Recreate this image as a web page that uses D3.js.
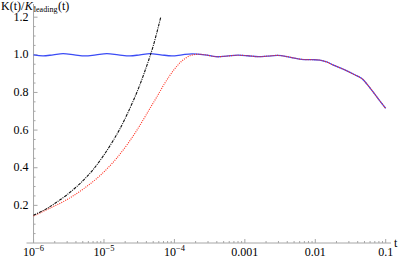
<!DOCTYPE html>
<html>
<head>
<meta charset="utf-8">
<script src="https://cdn.jsdelivr.net/npm/d3@7"></script>
<style>
  body { margin: 0; background: #fff; }
  text { font-family: "Liberation Serif", "DejaVu Serif", serif; }
</style>
</head>
<body>
<div id="chart"></div>
<script>
// values
const blueT = [1e-6, 1.36e-6, 1.9e-6, 2.62e-6, 3.8e-6, 5.37e-6, 7.7e-6, 1.1e-5, 1.6e-5, 2.34e-5, 3.25e-5, 4.49e-5, 6.4e-5, 9.23e-5, 1.28e-4, 1.77e-4,
  2.71e-4, 3.9e-4, 5.5e-4, 7.95e-4, 1.1e-3, 1.55e-3, 2.1e-3, 2.94e-3, 4.3e-3, 6.3e-3, 9e-3, 1.16e-2, 1.45e-2, 1.77e-2, 2.62e-2, 3.63e-2, 4.57e-2, 5.93e-2, 7.7e-2, 0.1]
const blueK = [1.0, 0.994, 1.0, 1.006, 1.0, 0.994, 1.0, 1.006, 1.0, 0.994, 1.0, 1.006, 1.0, 0.994, 1.0, 1.005,
  1.0, 0.99, 0.993, 0.998, 0.995, 0.99, 0.993, 0.997, 0.988, 0.976, 0.974, 0.972, 0.962, 0.947, 0.92, 0.894, 0.874, 0.826, 0.77, 0.715]

const redT = [1e-6, 1.71e-6, 2.96e-6, 5.08e-6, 8.77e-6, 1.51e-5, 2.61e-5, 3.61e-5, 4.49e-5, 5.6e-5, 7.33e-5, 9.61e-5, 1.26e-4, 1.66e-4, 2.16e-4,
  2.71e-4, 3.9e-4, 5.5e-4, 7.95e-4, 1.1e-3, 1.55e-3, 2.1e-3, 2.94e-3, 4.3e-3, 6.3e-3, 9e-3, 1.16e-2, 1.45e-2, 1.77e-2, 2.62e-2, 3.63e-2, 4.57e-2, 5.93e-2, 7.7e-2, 0.1]
const redK = [0.144, 0.185, 0.23, 0.287, 0.358, 0.45, 0.57, 0.655, 0.715, 0.775, 0.85, 0.915, 0.965, 0.995, 1.003,
  1.0, 0.99, 0.993, 0.998, 0.995, 0.99, 0.993, 0.997, 0.988, 0.976, 0.974, 0.972, 0.962, 0.947, 0.92, 0.894, 0.874, 0.826, 0.77, 0.715]

const blackT = [1e-6, 1.5e-6, 2e-6, 3e-6, 5e-6, 7e-6, 1e-5, 1.5e-5, 2e-5, 3e-5, 4e-5, 5e-5, 6.4e-5]
const blackK = [0.148, 0.18, 0.21, 0.257, 0.33, 0.39, 0.468, 0.573, 0.662, 0.81, 0.936, 1.047, 1.2]

const yTicks = [0.2, 0.4, 0.6, 0.8, 1.0, 1.2]
const xTicks = [1e-6, 1e-5, 1e-4, 1e-3, 1e-2, 1e-1]
const xTickLabels = [["10", "\u22126"], ["10", "\u22125"], ["10", "\u22124"], ["0.001"], ["0.01"], ["0.1"]]

const width = 400
const height = 259

const svg = d3.select("#chart").append("svg")
  .attr("width", width)
  .attr("height", height)

const x = d3.scaleLog().domain([Math.pow(10, -6.1), Math.pow(10, -0.925)]).range([26.5, 391])
const y = d3.scaleLinear().domain([0, 1.27]).range([243, 4])

const axisColor = "#a6a6a6"
const x0 = x(1e-6)

// y axis
svg.append("line")
  .attr("x1", x0).attr("x2", x0)
  .attr("y1", y(0)).attr("y2", y(1.27))
  .attr("stroke", axisColor).attr("stroke-width", 1)

const yMinor = d3.range(0.05, 1.26, 0.05).filter(v => !yTicks.some(t => Math.abs(t - v) < 1e-6))
svg.append("g").selectAll("line").data(yMinor).enter().append("line")
  .attr("x1", x0).attr("x2", x0 + 2)
  .attr("y1", d => y(d)).attr("y2", d => y(d))
  .attr("stroke", axisColor)
svg.append("g").selectAll("line").data(yTicks).enter().append("line")
  .attr("x1", x0).attr("x2", x0 + 4)
  .attr("y1", d => y(d)).attr("y2", d => y(d))
  .attr("stroke", axisColor)
svg.append("g").selectAll("text").data(yTicks).enter().append("text")
  .attr("x", x0 - 5)
  .attr("y", d => y(d) + 3.5)
  .attr("text-anchor", "end")
  .attr("font-size", "12px")
  .text(d => d.toFixed(1))

// x axis
svg.append("line")
  .attr("x1", x.range()[0]).attr("x2", x.range()[1])
  .attr("y1", y(0)).attr("y2", y(0))
  .attr("stroke", axisColor).attr("stroke-width", 1)

const xMinor = []
xTicks.slice(0, 5).forEach(d => { for (let k = 2; k <= 9; k++) xMinor.push(d * k) })
svg.append("g").selectAll("line").data(xMinor).enter().append("line")
  .attr("x1", d => x(d)).attr("x2", d => x(d))
  .attr("y1", y(0)).attr("y2", y(0) - 2)
  .attr("stroke", axisColor)
svg.append("g").selectAll("line").data(xTicks).enter().append("line")
  .attr("x1", d => x(d)).attr("x2", d => x(d))
  .attr("y1", y(0)).attr("y2", y(0) - 4)
  .attr("stroke", axisColor)

const xl = svg.append("g").selectAll("text").data(xTicks).enter().append("text")
  .attr("x", d => x(d))
  .attr("y", 256)
  .attr("text-anchor", "middle")
  .attr("font-size", "12px")
xl.each(function(d, i) {
  const lab = xTickLabels[i]
  const t = d3.select(this)
  t.append("tspan").text(lab[0])
  if (lab.length > 1) {
    t.append("tspan").attr("dy", -5).attr("font-size", "8.5px").text(lab[1])
  }
})

svg.append("text")
  .attr("x", 394).attr("y", 247)
  .attr("font-size", "12px")
  .text("t")

// y label: K(t)/K_leading(t), pieces laid out one after another
const labelParts = [
  { s: "K(t)/", size: 12, dy: 0, italic: false },
  { s: "K", size: 12, dy: 0, italic: true },
  { s: "leading", size: 8, dy: 2.5, italic: false },
  { s: "(t)", size: 12, dy: 0, italic: false }
]
let lx = 1
labelParts.forEach(p => {
  const t = svg.append("text")
    .attr("x", lx).attr("y", 9.5 + p.dy)
    .attr("font-size", p.size + "px")
    .attr("font-style", p.italic ? "italic" : null)
    .text(p.s)
  lx += t.node().getComputedTextLength() + (p.italic ? 1 : 0.5)
})

// curves
const line = d3.line()
  .x(d => x(d[0]))
  .y(d => y(d[1]))
  .curve(d3.curveCatmullRom.alpha(0.5))

svg.append("path")
  .datum(d3.zip(blueT, blueK))
  .attr("d", line)
  .attr("fill", "none")
  .attr("stroke", "#3b4cf5")
  .attr("stroke-width", 1.3)

svg.append("path")
  .datum(d3.zip(redT, redK))
  .attr("d", line)
  .attr("fill", "none")
  .attr("stroke", "#ff2a1a")
  .attr("stroke-width", 1.1)
  .attr("stroke-dasharray", "1,1.2")

svg.append("path")
  .datum(d3.zip(blackT, blackK))
  .attr("d", line)
  .attr("fill", "none")
  .attr("stroke", "#111")
  .attr("stroke-width", 1.1)
  .attr("stroke-dasharray", "3,1,1,1")
</script>
</body>
</html>
